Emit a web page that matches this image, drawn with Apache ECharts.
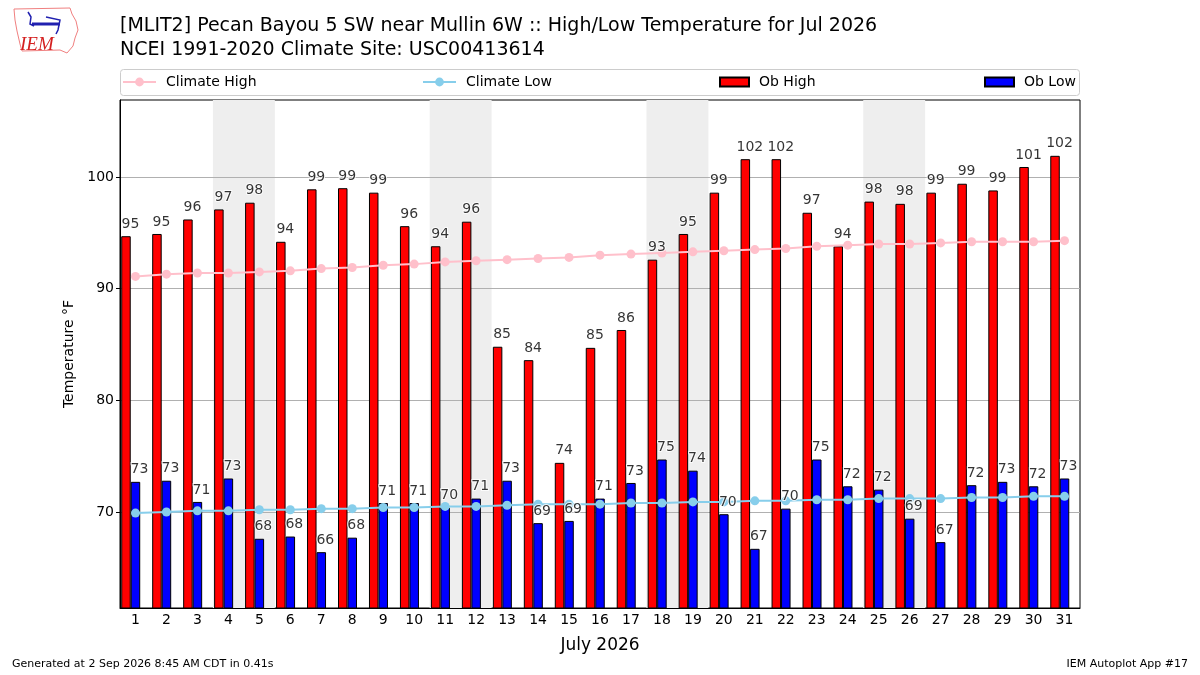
<!DOCTYPE html>
<html style="height: 100%">
<head>
    <meta charset="utf-8">
</head>
<body style="height: 100%; margin: 0">
<div id="container" style="width:1200px;height:675px"></div>
<script type="text/javascript" src="https://cdn.jsdelivr.net/npm/echarts@6.0.0/dist/echarts.min.js"></script>

<script type="text/javascript">

    var days = [1, 2, 3, 4, 5, 6, 7, 8, 9, 10, 11, 12, 13, 14, 15, 16,
        17, 18, 19, 20, 21, 22, 23, 24, 25, 26, 27, 28, 29, 30, 31];

    var obHigh = [94.7, 94.9, 96.2, 97.1, 97.7, 94.2, 98.9, 99.0, 98.6, 95.6, 93.8, 96.0, 84.8, 83.6, 74.4, 84.7,
        86.3, 92.6, 94.9, 98.6, 101.6, 101.6, 96.8, 93.8, 97.8, 97.6, 98.6, 99.4, 98.8, 100.9, 101.9];
    var obLow = [72.7, 72.8, 70.9, 73.0, 67.6, 67.8, 66.4, 67.7, 70.8, 70.8, 70.4, 71.2, 72.8, 69.0, 69.2, 71.2,
        72.6, 74.7, 73.7, 69.8, 66.7, 70.3, 74.7, 72.3, 72.0, 69.4, 67.3, 72.4, 72.7, 72.3, 73.0];
    var climHigh = [91.1, 91.3, 91.4, 91.4, 91.5, 91.6, 91.8, 91.9, 92.1, 92.2, 92.4, 92.5, 92.6, 92.7, 92.8, 93.0,
        93.1, 93.2, 93.3, 93.4, 93.5, 93.6, 93.8, 93.9, 94.0, 94.0, 94.1, 94.2, 94.2, 94.2, 94.3];
    var climLow = [69.9, 70.0, 70.1, 70.1, 70.2, 70.2, 70.3, 70.3, 70.4, 70.4, 70.5, 70.5, 70.6, 70.7, 70.7, 70.7,
        70.8, 70.8, 70.9, 70.9, 71.0, 71.0, 71.1, 71.1, 71.2, 71.2, 71.2, 71.3, 71.3, 71.4, 71.4];

    // saturdays of the month, each shaded together with the following sunday
    var weekendSat = [4, 11, 18, 25];
    var yTicks = [70, 80, 90, 100];

    var FONT = 'DejaVu Sans';

    f1();
    function f1() {
        var dom = document.getElementById("container");
        var myChart = echarts.init(dom);

        var roundLabel = function (p) {
            return Math.round(p.value);
        };
        var labelStyle = {
            show: true,
            position: 'top',
            distance: 5,
            fontFamily: FONT,
            fontSize: 14,
            color: '#000',
            textBorderColor: '#fff',
            textBorderWidth: 2,
            formatter: roundLabel
        };

        var option = {
            animation: false,
            backgroundColor: '#fff',
            title: {
                text: '[MLIT2] Pecan Bayou 5 SW near Mullin 6W :: High/Low Temperature for Jul 2026\nNCEI 1991-2020 Climate Site: USC00413614',
                left: 115,
                top: 9,
                textStyle: {
                    fontFamily: FONT,
                    fontWeight: 'normal',
                    fontSize: 19,
                    lineHeight: 24,
                    color: '#000'
                }
            },
            legend: [
                {data: ['Climate High'], left: 122, top: 75, itemWidth: 33, itemHeight: 11},
                {data: ['Climate Low'], left: 422, top: 75, itemWidth: 33, itemHeight: 11},
                {data: [{name: 'Ob High', icon: 'rect'}], left: 719, top: 75, itemWidth: 29, itemHeight: 9},
                {data: [{name: 'Ob Low', icon: 'rect'}], left: 984, top: 75, itemWidth: 29, itemHeight: 9}
            ].map(function (l) {
                l.padding = 0;
                l.textStyle = {fontFamily: FONT, fontSize: 14, color: '#000', padding: [0, 0, 0, 5]};
                l.selectedMode = false;
                return l;
            }),
            grid: {
                left: 120,
                right: 120,
                top: 100,
                bottom: 67,
                show: true,
                borderColor: '#000',
                borderWidth: 1
            },
            xAxis: [{
                type: 'category',
                data: days,
                z: 1,
                name: 'July 2026',
                nameLocation: 'middle',
                nameGap: 29,
                nameTextStyle: {fontFamily: FONT, fontSize: 17, color: '#000'},
                axisLine: {lineStyle: {color: '#000', width: 1}},
                axisTick: {alignWithLabel: true, length: 4, lineStyle: {color: '#000'}},
                axisLabel: {fontFamily: FONT, fontSize: 14, color: '#000', margin: 5},
                splitLine: {show: false}
            }, {
                // hidden helper axis so the weekend bands can start/end between days
                type: 'value',
                min: 0.5,
                max: 31.5,
                show: false
            }],
            yAxis: {
                type: 'value',
                min: 61.4,
                max: 106.9,
                z: 1,
                name: 'Temperature °F',
                nameLocation: 'middle',
                nameGap: 44,
                nameTextStyle: {fontFamily: FONT, fontSize: 14, color: '#000'},
                axisLine: {show: true, lineStyle: {color: '#000', width: 1}},
                axisTick: {show: true, length: 4, customValues: yTicks, lineStyle: {color: '#000'}},
                axisLabel: {fontFamily: FONT, fontSize: 14, color: '#000', margin: 6, customValues: yTicks},
                splitLine: {show: true, lineStyle: {color: '#b0b0b0', width: 1}}
            },
            series: [
                {
                    name: 'weekend',
                    type: 'line',
                    xAxisIndex: 1,
                    data: [],
                    z: 0,
                    silent: true,
                    markArea: {
                        silent: true,
                        z: 0,
                        itemStyle: {color: '#eeeeee'},
                        data: weekendSat.map(function (d) {
                            return [{xAxis: d - 0.5}, {xAxis: d + 1.5}];
                        })
                    }
                },
                {
                    name: 'Ob High',
                    type: 'bar',
                    data: obHigh,
                    barWidth: 9.5,
                    barGap: '0%',
                    itemStyle: {color: '#ff0000', borderColor: '#000', borderWidth: 1}
                },
                {
                    name: 'Ob Low',
                    type: 'bar',
                    data: obLow,
                    barWidth: 9.5,
                    barGap: '0%',
                    itemStyle: {color: '#0000ff', borderColor: '#000', borderWidth: 1}
                },
                {
                    // empty slot, pushes the pair a bit left of the tick like the source
                    name: 'slot',
                    type: 'bar',
                    data: [],
                    barWidth: 9.5,
                    barGap: '0%'
                },
                {
                    name: 'Climate High',
                    type: 'line',
                    data: climHigh,
                    z: 3,
                    symbol: 'circle',
                    symbolSize: 9,
                    color: '#ffc0cb',
                    lineStyle: {color: '#ffc0cb', width: 2},
                    itemStyle: {color: '#ffc0cb'}
                },
                {
                    name: 'Climate Low',
                    type: 'line',
                    data: climLow,
                    z: 3,
                    symbol: 'circle',
                    symbolSize: 9,
                    color: '#87ceeb',
                    lineStyle: {color: '#87ceeb', width: 2},
                    itemStyle: {color: '#87ceeb'}
                },
                {
                    name: 'high labels',
                    type: 'scatter',
                    data: obHigh,
                    symbolSize: 0,
                    z: 5,
                    silent: true,
                    label: Object.assign({}, labelStyle, {offset: [-5, 0]})
                },
                {
                    name: 'low labels',
                    type: 'scatter',
                    data: obLow,
                    symbolSize: 0,
                    z: 5,
                    silent: true,
                    label: Object.assign({}, labelStyle, {offset: [4, 0]})
                }
            ],
            graphic: [
                {
                    type: 'rect',
                    shape: {x: 120.5, y: 69.5, width: 959, height: 26, r: 3},
                    style: {fill: 'none', stroke: '#cccccc', lineWidth: 1},
                    z: -1
                },
                {
                    // IEM logo, rough
                    type: 'polygon',
                    shape: {points: [[14, 9], [70, 8], [72, 14], [76, 21], [78, 30], [75, 38], [73, 46], [67, 53], [60, 50], [22, 51], [20, 44], [17, 31], [15, 20]]},
                    style: {fill: 'none', stroke: '#f08080', lineWidth: 1}
                },
                {
                    type: 'polyline',
                    shape: {points: [[32, 24], [60, 24]]},
                    style: {stroke: '#2020b0', lineWidth: 3}
                },
                {
                    type: 'polyline',
                    shape: {points: [[28, 12], [31, 17], [30, 24], [34, 26]]},
                    style: {stroke: '#2020b0', lineWidth: 1.5, fill: 'none'}
                },
                {
                    type: 'polyline',
                    shape: {points: [[46, 17], [60, 20], [58, 30], [56, 34]]},
                    style: {stroke: '#2020b0', lineWidth: 1.5, fill: 'none'}
                },
                {
                    type: 'text',
                    x: 20,
                    y: 35,
                    style: {text: 'IEM', font: 'italic 19px "Liberation Serif"', fill: '#d42020'}
                },
                {
                    type: 'text',
                    x: 12,
                    y: 659,
                    style: {text: 'Generated at 2 Sep 2026 8:45 AM CDT in 0.41s', font: '11px "DejaVu Sans"', fill: '#000'}
                },
                {
                    type: 'text',
                    right: 12,
                    y: 659,
                    style: {text: 'IEM Autoplot App #17', font: '11px "DejaVu Sans"', fill: '#000'}
                }
            ]
        };

        if (option && typeof option === "object") {
            myChart.setOption(option, true);
        }
    }

</script>

</body>
</html>
